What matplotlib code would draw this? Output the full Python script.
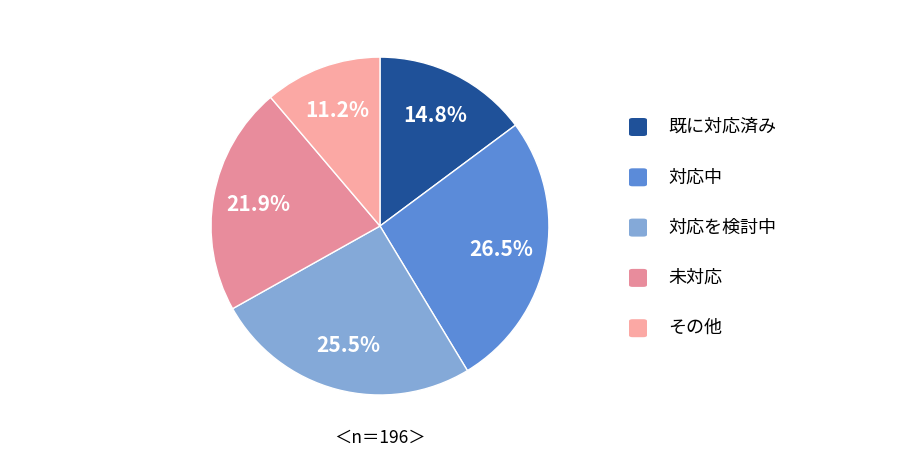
import matplotlib

matplotlib.use("Agg")
import matplotlib.pyplot as plt
from matplotlib.patches import FancyBboxPatch

plt.rcParams["font.family"] = ["Noto Sans CJK JP", "DejaVu Sans"]

labels = ["既に対応済み", "対応中", "対応を検討中", "未対応", "その他"]
values = [14.8, 26.5, 25.5, 21.9, 11.2]
colors = ["#1F5199", "#5B8BD9", "#84A9D8", "#E88C9C", "#FBA8A4"]
note = "＜n＝196＞"

fig = plt.figure(figsize=(9.0, 4.68), dpi=100)
ax = fig.add_axes([0.2344, 0.156, 0.3756, 0.722])
wedges, texts, autotexts = ax.pie(
    values, colors=colors, startangle=90, counterclock=False,
    autopct="%.1f%%", pctdistance=0.73,
    wedgeprops=dict(edgecolor="white", linewidth=1.0),
    textprops=dict(color="white", fontsize=15, fontweight="bold"),
)
ax.set_xlim(-1.0, 1.0)
ax.set_ylim(-1.0, 1.0)
ax.set_aspect("equal")

fig.text(0.422, 0.064, note, ha="center", va="center", fontsize=12.5)

# legend drawn by hand to match spacing
y0, dy = 1 - 127 / 468, 50.3 / 468
for i, (lab, col) in enumerate(zip(labels, colors)):
    y = y0 - i * dy
    w, h = 18 / 900, 18 / 468
    fig.patches.append(FancyBboxPatch(
        (638 / 900 - w / 2, y - h / 2), w, h,
        boxstyle="round,pad=0,rounding_size=0.004",
        transform=fig.transFigure, facecolor=col, edgecolor="none"))
    fig.text(668 / 900, y, lab, ha="left", va="center", fontsize=13)

fig.savefig("out.png", dpi=100)
